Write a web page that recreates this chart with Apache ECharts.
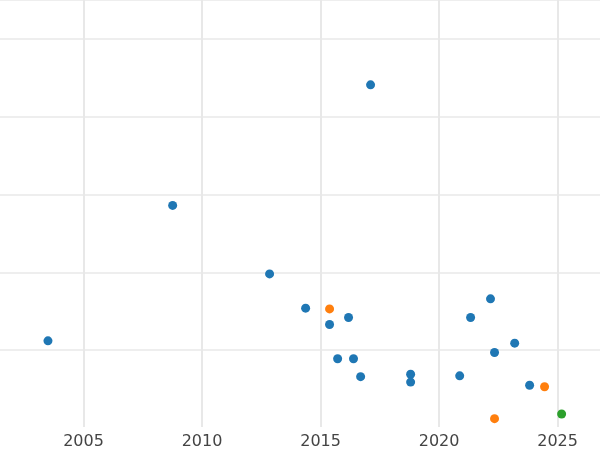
<!DOCTYPE html><html><head><meta charset="utf-8"><script src="https://cdn.jsdelivr.net/npm/echarts@6/dist/echarts.min.js"></script></head><body style="margin:0;overflow:hidden"><div id="c" style="position:absolute;left:-35.5px;top:0;width:640px;height:450px"></div><script>
const blueX=[2003.5,2008.76,2012.85,2014.37,2015.38,2016.18,2015.72,2016.39,2016.69,2017.11,2018.8,2018.8,2020.87,2021.33,2022.17,2022.34,2023.19,2023.82];
const blueY=[1.12,2.86,1.98,1.54,1.33,1.42,0.89,0.89,0.66,4.41,0.69,0.59,0.67,1.42,1.66,0.97,1.09,0.55];
const orangeX=[2015.38,2024.45,2022.34];
const orangeY=[1.53,0.53,0.12];
const greenX=[2025.17];
const greenY=[0.18];
const z=(a,b)=>a.map((v,i)=>[v,b[i]]);
const ch=echarts.init(document.getElementById('c'));
ch.setOption({animation:false,
grid:{left:0,right:0,top:0,bottom:22},
xAxis:{type:'value',min:2000,max:2027,interval:5,axisLine:{show:true,lineStyle:{color:'#fff',width:3}},axisTick:{show:false},
 axisLabel:{showMinLabel:false,showMaxLabel:false,fontSize:16,color:'#444',fontFamily:'DejaVu Sans',margin:6,formatter:v=>String(v)},
 splitLine:{lineStyle:{color:'#e8e8e8',width:2}}},
yAxis:{type:'value',min:0,max:5.5,interval:1,axisLabel:{show:false},axisLine:{show:false},axisTick:{show:false},
 splitLine:{lineStyle:{color:'#e8e8e8',width:1.5}}},
series:[
 {type:'scatter',symbolSize:9,itemStyle:{color:'#1f77b4',opacity:1},data:z(blueX,blueY)},
 {type:'scatter',symbolSize:9,itemStyle:{color:'#ff7f0e',opacity:1},data:z(orangeX,orangeY)},
 {type:'scatter',symbolSize:9,itemStyle:{color:'#2ca02c',opacity:1},data:z(greenX,greenY)}
]});
</script></body></html>
